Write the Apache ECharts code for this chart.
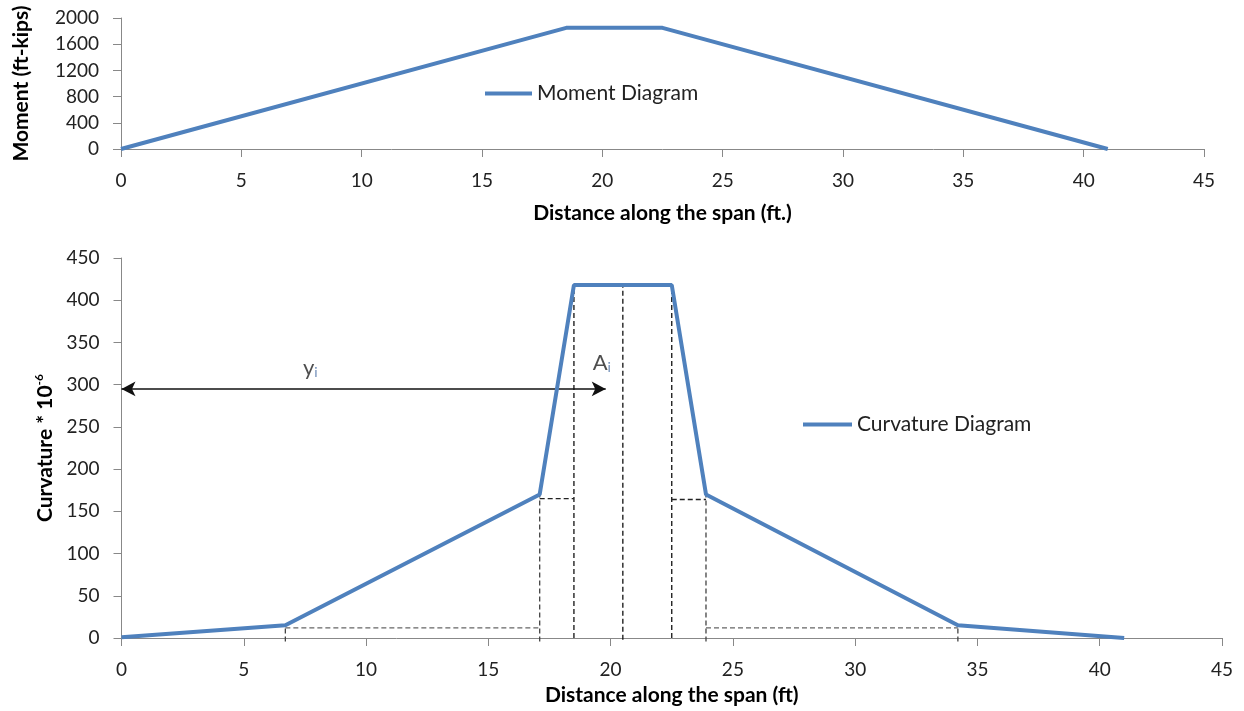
<!DOCTYPE html>
<html>
<head>
<meta charset="utf-8">
<script src="https://cdn.jsdelivr.net/npm/echarts@6/dist/echarts.min.js"></script>
<style>
html,body{margin:0;padding:0;background:#fff;}
#c{width:1244px;height:711px;}
</style>
</head>
<body>
<div id="c"></div>
<script>
// ---- data ----
const xTicks = [0, 5, 10, 15, 20, 25, 30, 35, 40, 45];
const momentX = [0, 18.5, 22.5, 41];
const momentY = [0, 1850, 1850, 0];
const curvX = [0, 6.7, 17.1, 18.5, 22.5, 23.9, 34.2, 41];
const curvY = [1, 15, 170, 418, 418, 170, 15, 0];
// vertical dashed guides: x position, bottom value and top value
const guideVX = [6.7, 17.1, 18.5, 20.5, 22.5, 23.9, 34.2];
const guideVBottom = [-4, -4, 0, -2, 0, -4, -4];
const guideVTop = [12, 170, 418, 418, 418, 170, 12];
// horizontal dashed guides: [x start, x end, y]
const guideH = [[6.7, 17.1, 12], [17.1, 18.5, 165], [22.5, 23.9, 164], [23.9, 34.2, 12]];
// arrow (y_i) from x=0 to x=19.8 at curvature 295
const arrowX = [0, 19.8];
const arrowY = 295;
// text annotations
const notes = [{x: 7.72, y: 320, main: 'y', sub: 'i'}, {x: 19.64, y: 326, main: 'A', sub: 'i'}];

const FONT = 'Lato';
const blue = '#4f81bd';
const axisGray = '#888888';
const TITLE_SIZE = 21;
const TICK_SIZE = 19;
const LEGEND_SIZE = 21;

function xAxisCfg(gridIndex, name, gap) {
  return {
    type: 'value', gridIndex: gridIndex, min: 0, max: 45, interval: 5,
    name: name, nameLocation: 'middle', nameGap: gap,
    nameTextStyle: {fontFamily: FONT, fontWeight: 'bold', fontSize: TITLE_SIZE, color: '#000'},
    axisLine: {show: true, onZero: false, lineStyle: {color: axisGray, width: 1}},
    axisTick: {show: true, inside: false, length: 8, lineStyle: {color: axisGray}},
    axisLabel: {fontFamily: FONT, fontSize: TICK_SIZE, color: '#222', margin: 22,
                formatter: (v) => String(v)},
    splitLine: {show: false}
  };
}
function yAxisCfg(gridIndex, max, interval, name, gap, rich) {
  const ts = {fontFamily: FONT, fontWeight: 'bold', fontSize: TITLE_SIZE, color: '#000'};
  if (rich) ts.rich = rich;
  return {
    type: 'value', gridIndex: gridIndex, min: 0, max: max, interval: interval,
    name: name, nameLocation: 'middle', nameGap: gap, nameTextStyle: ts,
    axisLine: {show: true, lineStyle: {color: axisGray}},
    axisTick: {show: true, inside: false, length: 8, lineStyle: {color: axisGray}},
    axisLabel: {fontFamily: FONT, fontSize: TICK_SIZE, color: '#222', margin: 22,
                formatter: (v) => String(v)},
    splitLine: {show: false}
  };
}

const series = [];
series.push({
  name: 'Moment Diagram', type: 'line', xAxisIndex: 0, yAxisIndex: 0,
  data: momentX.map((x, i) => [x, momentY[i]]),
  symbol: 'none', lineStyle: {color: blue, width: 4}, itemStyle: {color: blue}, z: 5
});
guideVX.forEach((x, i) => {
  const dark = (x > 18 && x < 23);
  series.push({
    type: 'line', xAxisIndex: 1, yAxisIndex: 1, symbol: 'none', silent: true, clip: false,
    data: [[x, guideVBottom[i]], [x, guideVTop[i]]],
    lineStyle: {color: dark ? '#111' : '#444', width: 1.3, type: [5, 3]}, z: 2
  });
});
guideH.forEach((g) => {
  series.push({
    type: 'line', xAxisIndex: 1, yAxisIndex: 1, symbol: 'none', silent: true,
    data: [[g[0], g[2]], [g[1], g[2]]],
    lineStyle: {color: g[2] < 50 ? '#666' : '#222', width: 1.3, type: [5, 3]}, z: 2
  });
});
series.push({
  name: 'Curvature Diagram', type: 'line', xAxisIndex: 1, yAxisIndex: 1,
  data: curvX.map((x, i) => [x, curvY[i]]),
  symbol: 'none', lineStyle: {color: blue, width: 4}, itemStyle: {color: blue}, z: 5
});
series.push({
  type: 'line', xAxisIndex: 1, yAxisIndex: 1, symbol: 'none', silent: true,
  data: [],
  markLine: {
    silent: true, symbol: ['arrow', 'arrow'], symbolSize: [11, 14],
    label: {show: false},
    lineStyle: {color: '#111', width: 1.5, type: 'solid'},
    data: [[{coord: [arrowX[0], arrowY]}, {coord: [arrowX[1], arrowY]}]]
  }, z: 6
});
series.push({
  type: 'scatter', xAxisIndex: 1, yAxisIndex: 1, symbolSize: 0, silent: true,
  data: notes.map(n => ({value: [n.x, n.y], main: n.main, sub: n.sub})),
  label: {
    show: true, position: 'inside',
    formatter: (p) => '{m|' + p.data.main + '}{s|' + p.data.sub + '}',
    rich: {
      m: {fontFamily: FONT, fontSize: 22, color: '#222'},
      s: {fontFamily: FONT, fontSize: 14, color: '#4a6fa5', padding: [10, 0, 0, 0]}
    }
  }, z: 7
});

const option = {
  animation: false,
  backgroundColor: '#fff',
  grid: [
    {left: 121, right: 40, top: 18, height: 131, containLabel: false},
    {left: 121.5, right: 22, top: 258, height: 381, containLabel: false}
  ],
  legend: [
    {data: ['Moment Diagram'], left: 485, top: 83, padding: 0, icon: 'rect', itemWidth: 47, itemHeight: 4,
     textStyle: {fontFamily: FONT, fontSize: LEGEND_SIZE, color: '#222'}, selectedMode: false},
    {data: ['Curvature Diagram'], left: 803, top: 414, padding: 0, icon: 'rect', itemWidth: 49, itemHeight: 4,
     textStyle: {fontFamily: FONT, fontSize: LEGEND_SIZE, color: '#222'}, selectedMode: false}
  ],
  xAxis: [
    xAxisCfg(0, 'Distance along the span (ft.)', 54),
    xAxisCfg(1, 'Distance along the span (ft)', 47)
  ],
  yAxis: [
    yAxisCfg(0, 2000, 400, 'Moment (ft-kips)', 89, null),
    yAxisCfg(1, 450, 50, '{a|Curvature * 10}{b|-6}', 65, {
      a: {fontFamily: FONT, fontWeight: 'bold', fontSize: TITLE_SIZE, color: '#000'},
      b: {fontFamily: FONT, fontWeight: 'bold', fontSize: 12, color: '#000', padding: [0, 0, 11, 0]}
    })
  ],
  series: series
};

const chart = echarts.init(document.getElementById('c'), null, {renderer: 'canvas'});
chart.setOption(option);
</script>
</body>
</html>
